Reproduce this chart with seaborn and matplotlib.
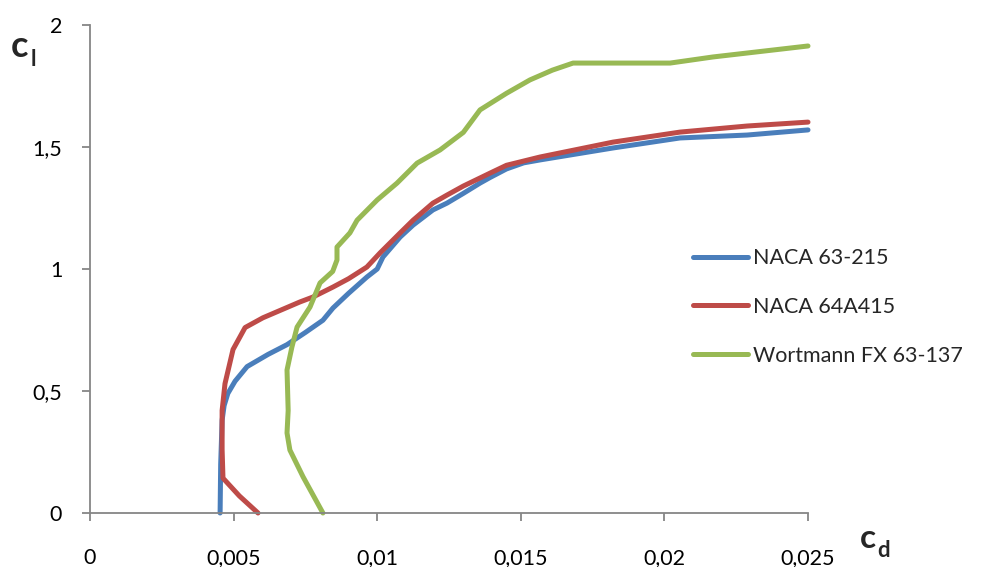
import pandas as pd
import numpy as np
import seaborn as sns
import matplotlib.pyplot as plt

# polar data (cd, cl)
naca63_cd = [0.00453, 0.00455, 0.00460, 0.00467, 0.00480, 0.00505, 0.00547, 0.00620, 0.00686,
             0.00750, 0.00811, 0.00846, 0.00900, 0.00964, 0.01000, 0.01020, 0.01080, 0.01125,
             0.01194, 0.01243, 0.01300, 0.01358, 0.01393, 0.01450, 0.01510, 0.01567, 0.01821,
             0.02054, 0.02288, 0.02500]
naca63_cl = [0.0, 0.2, 0.38, 0.44, 0.49, 0.54, 0.60, 0.65, 0.69,
             0.74, 0.79, 0.84, 0.90, 0.967, 1.00, 1.049, 1.131, 1.18,
             1.242, 1.27, 1.31, 1.352, 1.375, 1.41, 1.435, 1.447, 1.496,
             1.537, 1.549, 1.57]

naca64_cd = [0.00585, 0.00520, 0.00463, 0.00460, 0.00460, 0.00470, 0.00498, 0.00540, 0.00602,
             0.00731, 0.00776, 0.00846, 0.00900, 0.00964, 0.01010, 0.01080, 0.01125, 0.01194,
             0.01243, 0.01300, 0.01358, 0.01393, 0.01450, 0.01567, 0.01821, 0.02054, 0.02288,
             0.02500]
naca64_cl = [0.0, 0.07, 0.143, 0.26, 0.42, 0.53, 0.67, 0.76, 0.80,
             0.865, 0.885, 0.926, 0.96, 1.008, 1.066, 1.148, 1.20, 1.27,
             1.303, 1.34, 1.373, 1.393, 1.425, 1.459, 1.52, 1.561, 1.586,
             1.602]

fx_cd = [0.00811, 0.00742, 0.00696, 0.00686, 0.00690, 0.00686, 0.00703, 0.00721, 0.00766,
         0.00801, 0.00845, 0.00860, 0.00860, 0.00905, 0.00930, 0.01000, 0.01069, 0.01139,
         0.01219, 0.01300, 0.01358, 0.01450, 0.01532, 0.01610, 0.01682, 0.01821, 0.02020,
         0.02169, 0.02500]
fx_cl = [0.0, 0.148, 0.258, 0.328, 0.42, 0.586, 0.68, 0.762, 0.844,
         0.943, 0.99, 1.037, 1.09, 1.148, 1.20, 1.283, 1.352, 1.434,
         1.488, 1.56, 1.652, 1.72, 1.775, 1.815, 1.844, 1.844, 1.844,
         1.869, 1.914]

names = ["NACA 63-215", "NACA 64A415", "Wortmann FX 63-137"]
colors = ["#4a7ebb", "#be4b48", "#98b954"]

frames = []
for name, cd, cl in zip(names, [naca63_cd, naca64_cd, fx_cd], [naca63_cl, naca64_cl, fx_cl]):
    frames.append(pd.DataFrame({"cd": cd, "cl": cl, "profile": name}))
data = pd.concat(frames, ignore_index=True)

sns.set_style("white")
plt.rcParams['font.family'] = ['Lato', 'DejaVu Sans']

fig = plt.figure(figsize=(9.84, 5.67), dpi=100)
ax = fig.add_axes([90/984, 54/567, 718/984, 488/567])

sns.lineplot(data=data, x="cd", y="cl", hue="profile", palette=colors, sort=False,
             estimator=None, units="profile", linewidth=3.6, ax=ax)
for line in ax.lines:
    line.set_solid_joinstyle("round")
    line.set_solid_capstyle("round")
    line.set_clip_on(False)

ax.set_xlim(0, 0.025)
ax.set_ylim(0, 2)
ax.set_xticks(np.arange(0, 0.0251, 0.005))
ax.set_yticks(np.arange(0, 2.01, 0.5))
ax.set_xticklabels(["0", "0,005", "0,01", "0,015", "0,02", "0,025"])
ax.set_yticklabels(["0", "0,5", "1", "1,5", "2"])
ax.set_xlabel("")
ax.set_ylabel("")

for s in ["top", "right"]:
    ax.spines[s].set_visible(False)
for s in ["left", "bottom"]:
    ax.spines[s].set_color("#868686")
    ax.spines[s].set_linewidth(1.3)
ax.tick_params(axis="both", colors="#868686", length=6, width=1.3, labelcolor="black",
               labelsize=15.5)
ax.tick_params(axis="x", pad=19, direction="out", bottom=True)
ax.tick_params(axis="y", pad=14, direction="out", left=True)

leg = ax.legend(loc="upper left", bbox_to_anchor=(674/984, 1 - 229/567),
                bbox_transform=fig.transFigure, frameon=False, fontsize=15.5,
                handlelength=2.55, handletextpad=0.2, labelspacing=1.33)
for h in leg.get_lines():
    h.set_linewidth(3.6)

# axis labels c_l and c_d
fig.text(11/984, 1 - 57/567, "c", fontsize=26, fontweight="bold")
fig.text(31/984, 1 - 66/567, "l", fontsize=16, fontweight="bold")
fig.text(860/984, 1 - 548/567, "c", fontsize=24, fontweight="bold")
fig.text(877/984, 1 - 557/567, "d", fontsize=16, fontweight="bold")

plt.savefig("out.png", dpi=100)
